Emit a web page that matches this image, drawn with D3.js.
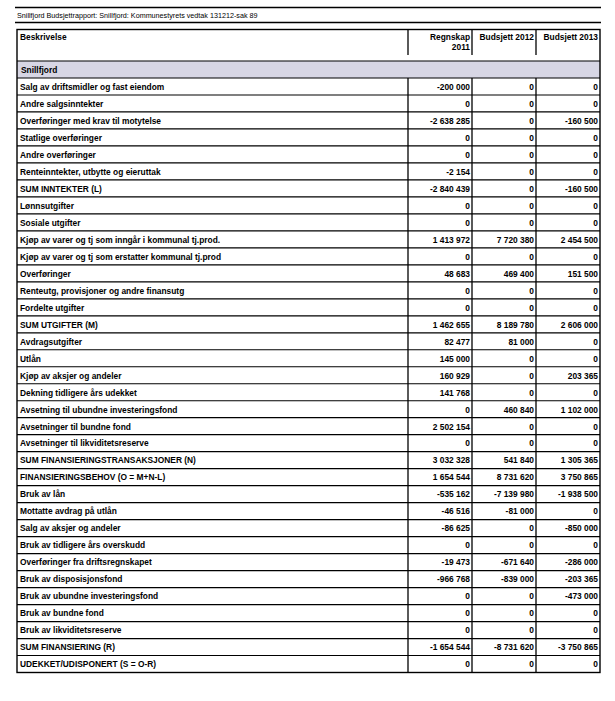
<!DOCTYPE html>
<html>
<head>
<meta charset="utf-8">
<script src="https://cdn.jsdelivr.net/npm/d3@7"></script>
<style>
  body { margin: 0; background: #fff; }
  text { font-family: "Liberation Sans", Arial, sans-serif; fill: #000; }
</style>
</head>
<body>
<svg id="chart"></svg>
<script>
const title = 'Snillfjord Budsjettrapport: Snillfjord: Kommunestyrets vedtak 131212-sak 89';
const group = 'Snillfjord';
const columns = ['Regnskap 2011', 'Budsjett 2012', 'Budsjett 2013'];

const labels = [
  'Salg av driftsmidler og fast eiendom',
  'Andre salgsinntekter',
  'Overføringer med krav til motytelse',
  'Statlige overføringer',
  'Andre overføringer',
  'Renteinntekter, utbytte og eieruttak',
  'SUM INNTEKTER (L)',
  'Lønnsutgifter',
  'Sosiale utgifter',
  'Kjøp av varer og tj som inngår i kommunal tj.prod.',
  'Kjøp av varer og tj som erstatter kommunal tj.prod',
  'Overføringer',
  'Renteutg, provisjoner og andre finansutg',
  'Fordelte utgifter',
  'SUM UTGIFTER (M)',
  'Avdragsutgifter',
  'Utlån',
  'Kjøp av aksjer og andeler',
  'Dekning tidligere års udekket',
  'Avsetning til ubundne investeringsfond',
  'Avsetninger til bundne fond',
  'Avsetninger til likviditetsreserve',
  'SUM FINANSIERINGSTRANSAKSJONER (N)',
  'FINANSIERINGSBEHOV (O = M+N-L)',
  'Bruk av lån',
  'Mottatte avdrag på utlån',
  'Salg av aksjer og andeler',
  'Bruk av tidligere års overskudd',
  'Overføringer fra driftsregnskapet',
  'Bruk av disposisjonsfond',
  'Bruk av ubundne investeringsfond',
  'Bruk av bundne fond',
  'Bruk av likviditetsreserve',
  'SUM FINANSIERING (R)',
  'UDEKKET/UDISPONERT (S = O-R)'
];

const regnskap2011 = [
  -200000, 0, -2638285, 0, 0, -2154, -2840439, 0, 0, 1413972, 0, 48683, 0, 0,
  1462655, 82477, 145000, 160929, 141768, 0, 2502154, 0, 3032328, 1654544,
  -535162, -46516, -86625, 0, -19473, -966768, 0, 0, 0, -1654544, 0
];
const budsjett2012 = [
  0, 0, 0, 0, 0, 0, 0, 0, 0, 7720380, 0, 469400, 0, 0,
  8189780, 81000, 0, 0, 0, 460840, 0, 0, 541840, 8731620,
  -7139980, -81000, 0, 0, -671640, -839000, 0, 0, 0, -8731620, 0
];
const budsjett2013 = [
  0, 0, -160500, 0, 0, 0, -160500, 0, 0, 2454500, 0, 151500, 0, 0,
  2606000, 0, 0, 203365, 0, 1102000, 0, 0, 1305365, 3750865,
  -1938500, 0, -850000, 0, -286000, -203365, -473000, 0, 0, -3750865, 0
];

const series = [regnskap2011, budsjett2012, budsjett2013];

const rows = labels.map((label, i) => ({
  label: label,
  values: series.map(s => s[i])
}));

const width = 615, height = 701;
const tLeft = 17, tRight = 600, tTop = 29.5;
const headerBottom = 61, groupBottom = 78, tBottom = 672.5;

const svg = d3.select('#chart')
  .attr('width', width)
  .attr('height', height);

// norwegian style numbers: space as thousands separator, plain hyphen minus
const nf = d3.formatLocale({
  decimal: ',', thousands: ' ', grouping: [3], currency: ['', ''], minus: '-'
}).format(',d');

// column edges: description, then three numeric columns
const x = d3.scaleBand()
  .domain(columns)
  .range([408, tRight]);

const y = d3.scaleBand()
  .domain(d3.range(rows.length))
  .range([groupBottom, tBottom]);

// title lines
svg.append('line')
  .attr('x1', 15).attr('x2', 601)
  .attr('y1', 7.5).attr('y2', 7.5)
  .attr('stroke', '#000').attr('stroke-width', 1.5);

svg.append('text')
  .attr('x', 17).attr('y', 18)
  .style('font-size', '7.2px')
  .text(title);

svg.append('line')
  .attr('x1', 15).attr('x2', 601)
  .attr('y1', 22.5).attr('y2', 22.5)
  .attr('stroke', '#000').attr('stroke-width', 1.5);

// group band
svg.append('rect')
  .attr('x', tLeft).attr('y', headerBottom)
  .attr('width', tRight - tLeft).attr('height', groupBottom - headerBottom)
  .attr('fill', '#d7d6e4');

svg.append('text')
  .attr('x', 21).attr('y', headerBottom + 11.5)
  .style('font-size', '8.4px').style('font-weight', 'bold')
  .text(group);

// header
svg.append('text')
  .attr('x', 20).attr('y', tTop + 10)
  .style('font-size', '8.4px').style('font-weight', 'bold')
  .text('Beskrivelse');

const head = svg.append('g').selectAll('text')
  .data(columns)
  .enter()
  .append('text')
  .attr('x', d => x(d) + x.bandwidth() - 2)
  .attr('y', tTop + 10)
  .attr('text-anchor', 'end')
  .style('font-size', '8.4px').style('font-weight', 'bold');

head.each(function(d, i) {
  const t = d3.select(this);
  if (i === 0) {
    const parts = d.split(' ');
    t.append('tspan').text(parts[0]);
    t.append('tspan').attr('x', x(d) + x.bandwidth() - 2).attr('dy', 10).text(parts[1]);
  } else {
    t.text(d);
  }
});

svg.append('g').selectAll('line')
  .data(columns)
  .enter()
  .append('line')
  .attr('x1', d => x(d)).attr('x2', d => x(d))
  .attr('y1', tTop).attr('y2', 55)
  .attr('stroke', '#000').attr('stroke-width', 1.3);

svg.append('line')
  .attr('x1', tLeft).attr('x2', tRight)
  .attr('y1', headerBottom).attr('y2', headerBottom)
  .attr('stroke', '#000').attr('stroke-width', 1.2);

// body rows
const row = svg.append('g').selectAll('g')
  .data(rows)
  .enter()
  .append('g')
  .attr('transform', (d, i) => `translate(0, ${y(i)})`);

row.append('line')
  .attr('x1', tLeft).attr('x2', tRight)
  .attr('y1', 0).attr('y2', 0)
  .attr('stroke', '#000').attr('stroke-width', 1.2);

row.append('text')
  .attr('x', 20).attr('y', 11.8)
  .style('font-size', '8.4px').style('font-weight', 'bold')
  .text(d => d.label);

row.selectAll('text.val')
  .data(d => d.values)
  .enter()
  .append('text')
  .attr('class', 'val')
  .attr('x', (d, i) => x(columns[i]) + x.bandwidth() - 2)
  .attr('y', 11.8)
  .attr('text-anchor', 'end')
  .style('font-size', '8.4px').style('font-weight', 'bold')
  .text(d => nf(d));

// vertical column lines in body
svg.append('g').selectAll('line')
  .data(columns)
  .enter()
  .append('line')
  .attr('x1', d => x(d)).attr('x2', d => x(d))
  .attr('y1', groupBottom).attr('y2', tBottom)
  .attr('stroke', '#000').attr('stroke-width', 1.3);

// outer border
svg.append('rect')
  .attr('x', tLeft).attr('y', tTop)
  .attr('width', tRight - tLeft).attr('height', tBottom - tTop)
  .attr('fill', 'none')
  .attr('stroke', '#000').attr('stroke-width', 1.4);
</script>
</body>
</html>
